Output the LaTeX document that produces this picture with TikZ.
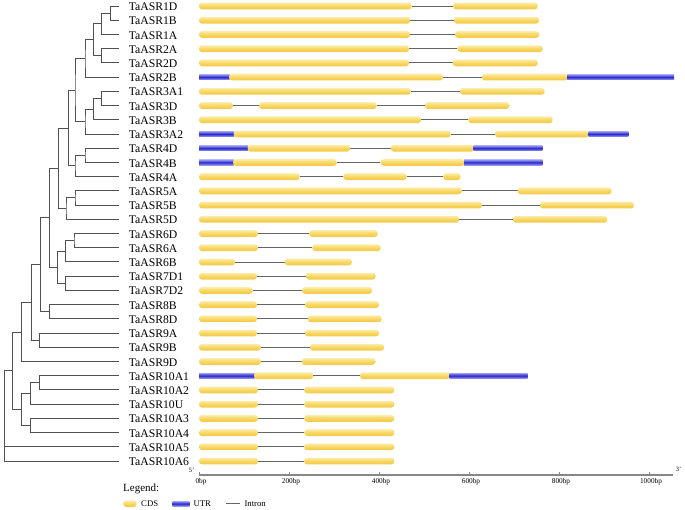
\documentclass[tikz,border=0pt]{standalone}
\usepackage{fontspec}
\setmainfont{Liberation Serif}
\usetikzlibrary{calc}
\definecolor{treegray}{RGB}{80,80,80}
\definecolor{cdstop}{RGB}{252,236,170}
\definecolor{cdsmid}{RGB}{248,214,96}
\definecolor{cdsbot}{RGB}{242,200,70}
\definecolor{utrlight}{RGB}{150,150,240}
\definecolor{utrdark}{RGB}{40,40,205}
\definecolor{introngray}{RGB}{100,100,100}
\definecolor{axisgray}{RGB}{135,135,135}
\newcommand\RowY[1]{(6+(#1-1)*14.22)}
\newcommand\segC[3]{\shade[cds] ({#2},{\RowY{#1}-3.4}) rectangle ({#3},{\RowY{#1}+3.4});}
\newcommand\segU[3]{\shade[utr] ({#2},{\RowY{#1}-2.6}) rectangle ({#3},{\RowY{#1}+2.6});}
\newcommand\segI[3]{\draw[intron] ({#2},{\RowY{#1}}) -- ({#3},{\RowY{#1}});}
\newcommand\gene[2]{\foreach \t/\a/\b in {#2}{\csname seg\t\endcsname{#1}{\a}{\b}}}
\newcommand\tjoin[4]{%
  \coordinate (#1m) at ($(#3)!0.5!(#4)$);
  \coordinate (#1) at ({#2},0 |- #1m);
  \draw[tree] (#3) -| (#1) |- (#4);}
\tikzset{
  tree/.style={draw=treegray, line width=0.95pt},
  cds/.style={top color=cdstop, bottom color=cdsbot, middle color=cdsmid, rounded corners=3pt},
  utr/.style={top color=utrlight, bottom color=utrlight, middle color=utrdark},
  intron/.style={draw=introngray, line width=0.9pt},
  axisline/.style={draw=axisgray, line width=1.3pt},
  lab/.style={anchor=base west, inner sep=0pt, font=\fontsize{11.7}{12}\selectfont},
  ticklab/.style={anchor=center, inner sep=0pt, font=\fontsize{7.3}{8}\selectfont},
  leglab/.style={anchor=west, inner sep=0pt, font=\fontsize{8.7}{10}\selectfont},
  endlab/.style={anchor=center, inner sep=0pt, font=\fontsize{6.5}{7}\selectfont},
}
\begin{document}
\begin{tikzpicture}[x=1pt, y=-1pt]
\useasboundingbox (0,0) rectangle (685,510);
% labels and leaves
\foreach \n [count=\i] in {1D,1B,1A,2A,2D,2B,3A1,3D,3B,3A2,4D,4B,4A,5A,5B,5D,6D,6A,6B,7D1,7D2,8B,8D,9A,9B,9D,10A1,10A2,10U,10A3,10A4,10A5,10A6}{
  \coordinate (L\i) at (119,{\RowY{\i}});
  \node[lab] (lab\i) at (128.6,{\RowY{\i}+4.6}) {TaASR\n};
}
% tree
\tjoin{a1}{110.3}{L1}{L2}
\tjoin{a2}{101.7}{a1}{L3}
\tjoin{a3}{101.7}{L4}{L5}
\tjoin{a4}{93.3}{a2}{a3}
\tjoin{a5}{85}{a4}{L6}
\tjoin{b1}{101.7}{L7}{L8}
\tjoin{b2}{93.3}{b1}{L9}
\tjoin{b3}{85}{b2}{L10}
\tjoin{ab}{75}{a5}{b3}
\tjoin{c1}{85}{L11}{L12}
\tjoin{c2}{75}{c1}{L13}
\tjoin{abc}{68.3}{ab}{c2}
\tjoin{d1}{75}{L14}{L15}
\tjoin{d2}{66}{d1}{L16}
\tjoin{abcd}{58.3}{abc}{d2}
\tjoin{e1}{74}{L17}{L18}
\tjoin{e2}{65.7}{e1}{L19}
\tjoin{f1}{65.7}{L20}{L21}
\tjoin{ef}{57.3}{e2}{f1}
\tjoin{up}{49.3}{abcd}{ef}
\tjoin{g1}{49.3}{L22}{L23}
\tjoin{upg}{40.3}{up}{g1}
\tjoin{h1}{39.3}{L24}{L25}
\tjoin{uph}{31.7}{upg}{h1}
\tjoin{uphi}{21.7}{uph}{L26}
\tjoin{k1}{39.3}{L27}{L28}
\tjoin{k2}{30.7}{k1}{L29}
\tjoin{k3}{30.7}{L30}{L31}
\tjoin{k4}{21.7}{k2}{k3}
\tjoin{upall}{12.7}{uphi}{k4}
\coordinate (root) at (4,0 |- L33);
\draw[tree] (upall) -| (root) -- (L33);
\draw[tree] (L32) -- (L32 -| root);
% gene structures
\gene{1}{C/199/411.7, I/411.7/453.3, C/453.3/537.7}
\gene{2}{C/199/410.3, I/410.3/454, C/454/539}
\gene{3}{C/199/410.3, I/410.3/455, C/455/539.3}
\gene{4}{C/199/409, I/409/457.7, C/457.7/542.7}
\gene{5}{C/199/409, I/409/452.7, C/452.7/537.7}
\gene{6}{U/199/229.5, C/229/443, I/443/482, C/482/567.5, U/567/674}
\gene{7}{C/199/410.7, I/410.7/460, C/460/544.7}
\gene{8}{C/199/233, I/233/259, C/259/376.7, I/376.7/425, C/425/509.3}
\gene{9}{C/199/421, I/421/468.3, C/468.3/552.7}
\gene{10}{U/199/234.2, C/233.7/450.7, I/450.7/495, C/495/589.2, U/588.7/628.3}
\gene{11}{U/199/248.2, C/247.7/350, I/350/390.7, C/390.7/474.2, U/473.7/542.3}
\gene{12}{U/199/233.5, C/233/336.7, I/336.7/380.7, C/380.7/464.5, U/464/542.3}
\gene{13}{C/199/299.7, I/299.7/343.3, C/343.3/406.7, I/406.7/443.3, C/443.3/460.7}
\gene{14}{C/199/461.7, I/461.7/517.7, C/517.7/611.7}
\gene{15}{C/199/482, I/482/540, C/540/634}
\gene{16}{C/199/459.3, I/459.3/513, C/513/607.3}
\gene{17}{C/199/258, I/258/309.3, C/309.3/377.7}
\gene{18}{C/199/258, I/258/312.3, C/312.3/380.7}
\gene{19}{C/199/235, I/235/284.7, C/284.7/351.7}
\gene{20}{C/199/257, I/257/306, C/306/375.7}
\gene{21}{C/199/252.7, I/252.7/302, C/302/372}
\gene{22}{C/199/257, I/257/305, C/305/379}
\gene{23}{C/199/257, I/257/307.7, C/307.7/381.7}
\gene{24}{C/199/257, I/257/305, C/305/379}
\gene{25}{C/199/261, I/261/310, C/310/384}
\gene{26}{C/199/261, I/261/301.7, C/301.7/375.3}
\gene{27}{U/199/254.5, C/254/313.3, I/313.3/360, C/360/449.8, U/449.3/527.7}
\foreach \r in {28,...,33}{\gene{\r}{C/199/258, I/258/304.3, C/304.3/394.3}}
% axis
\coordinate (ax0) at (199,475);
\coordinate (ax1) at (673.3,475);
\draw[axisline] (ax0) -- (ax1);
\foreach \k/\t in {0/0bp,1/200bp,2/400bp,3/600bp,4/800bp,5/1000bp}{
  \coordinate (tk\k) at ({199+90*\k},475);
  \draw[draw=axisgray, line width=0.8pt] (tk\k) -- ++(0,-2.8);
  \node[ticklab] (tl\k) at ({201+90*\k},482) {\t};
}
\node[endlab] (five) at (191.7,470.5) {5'};
\node[endlab] (three) at (678.5,469.5) {3'};
% legend
\node[anchor=base west, inner sep=0pt, font=\fontsize{11}{12}\selectfont] (legend) at (123,491.5) {Legend:};
\shade[cds] (123.3,500.4) rectangle (136.7,507);
\node[leglab] (cdslab) at (141,503.7) {CDS};
\shade[utr] (172.7,501.3) rectangle (189.3,506.1);
\node[leglab] (utrlab) at (193.3,503.7) {UTR};
\coordinate (inA) at (226,503.7);
\coordinate (inB) at (240,503.7);
\draw[intron] (inA) -- (inB);
\node[leglab] (inlab) at (244.3,503.7) {Intron};
\end{tikzpicture}
\end{document}
